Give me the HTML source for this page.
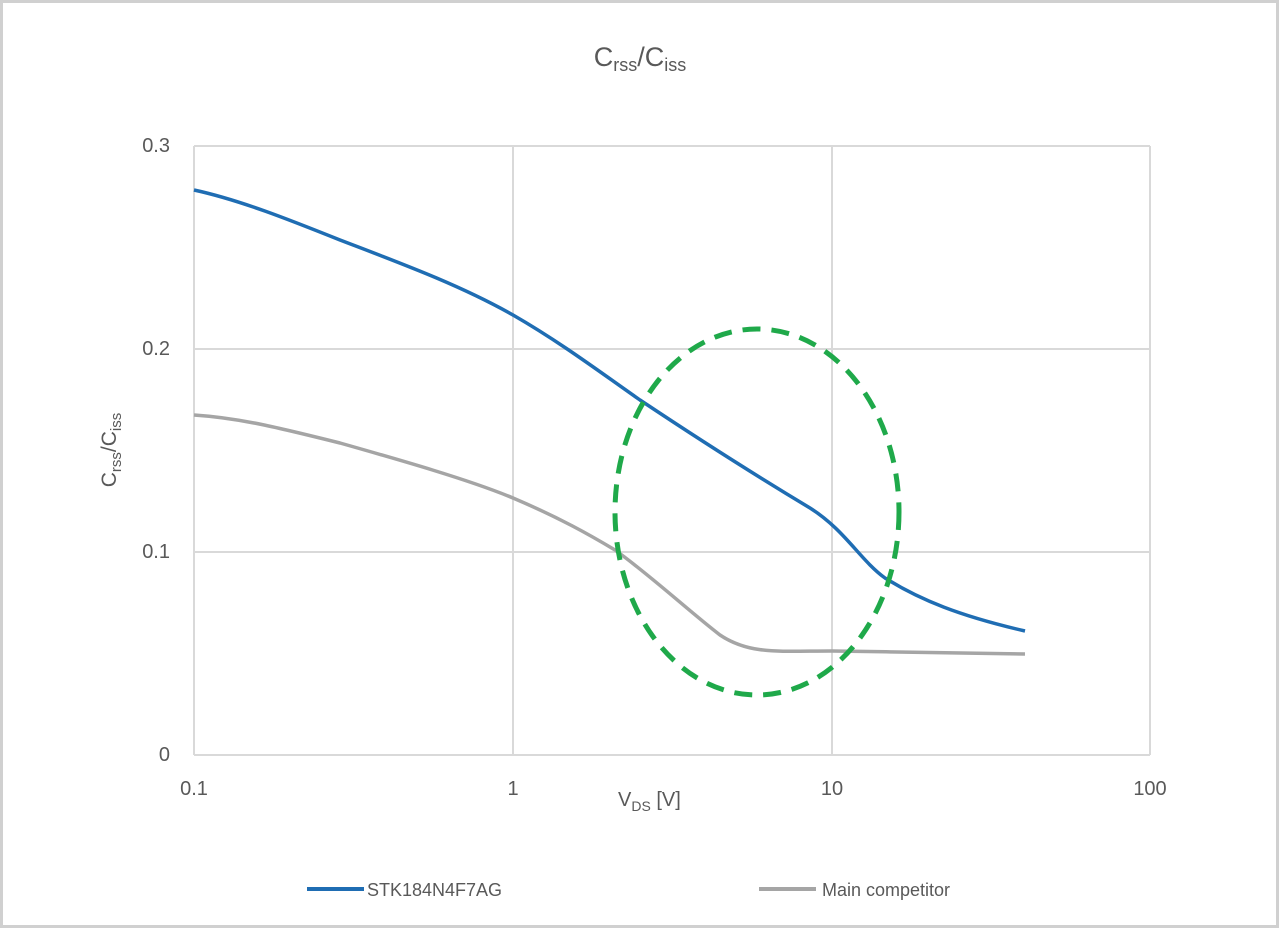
<!DOCTYPE html>
<html><head><style>
body{margin:0;background:#fff;}
svg{display:block;font-family:"Liberation Sans",sans-serif;}
</style></head><body>
<svg width="1280" height="929" viewBox="0 0 1280 929">
<rect x="1.5" y="1.5" width="1276" height="925" fill="#fff" stroke="#d0d0d0" stroke-width="3"/>
<text x="640" y="66" text-anchor="middle" font-size="27" fill="#595959">C<tspan font-size="18" dy="5">rss</tspan><tspan dy="-5">/C</tspan><tspan font-size="18" dy="5">iss</tspan></text>
<g stroke="#d9d9d9" stroke-width="2" fill="none">
<line x1="194" y1="146" x2="1150" y2="146"/>
<line x1="194" y1="349" x2="1150" y2="349"/>
<line x1="194" y1="552" x2="1150" y2="552"/>
<line x1="194" y1="755" x2="1150" y2="755"/>
<line x1="194" y1="146" x2="194" y2="755"/>
<line x1="513" y1="146" x2="513" y2="755"/>
<line x1="832" y1="146" x2="832" y2="755"/>
<line x1="1150" y1="146" x2="1150" y2="755"/>
</g>
<g font-size="20" fill="#595959">
<text x="170" y="152" text-anchor="end">0.3</text>
<text x="170" y="355" text-anchor="end">0.2</text>
<text x="170" y="558" text-anchor="end">0.1</text>
<text x="170" y="761" text-anchor="end">0</text>
<text x="194" y="795" text-anchor="middle">0.1</text>
<text x="513" y="795" text-anchor="middle">1</text>
<text x="832" y="795" text-anchor="middle">10</text>
<text x="1150" y="795" text-anchor="middle">100</text>
<text x="618" y="806">V<tspan font-size="14" dy="5">DS</tspan><tspan dy="-5"> [V]</tspan></text>
<text transform="translate(116,450) rotate(-90)" text-anchor="middle" font-size="21">C<tspan font-size="15" dy="5">rss</tspan><tspan dy="-5">/C</tspan><tspan font-size="15" dy="5">iss</tspan></text>
</g>
<path d="M194,415 C240,418 280,428 340,443 C400,460 470,480 513,498 C560,518 590,535 615,550 C650,575 690,612 720,635 C750,655 780,651 832,651 C900,652 980,653 1025,654" fill="none" stroke="#a5a5a5" stroke-width="3.5"/>
<path d="M194,190 C240,200 290,220 340,240 C400,263 460,285 513,315 C560,342 600,372 640,400 C700,440 760,478 810,508 C845,530 860,560 885,578 C920,600 960,616 1025,631" fill="none" stroke="#1f6db3" stroke-width="3.5"/>
<ellipse cx="757" cy="512" rx="142" ry="183" fill="none" stroke="#1fa94a" stroke-width="5" stroke-dasharray="18,11"/>
<line x1="307" y1="889" x2="364" y2="889" stroke="#1f6db3" stroke-width="4"/>
<text x="367" y="896" font-size="18" fill="#595959">STK184N4F7AG</text>
<line x1="759" y1="889" x2="816" y2="889" stroke="#a5a5a5" stroke-width="4"/>
<text x="822" y="896" font-size="18" fill="#595959">Main competitor</text>
</svg>
</body></html>
